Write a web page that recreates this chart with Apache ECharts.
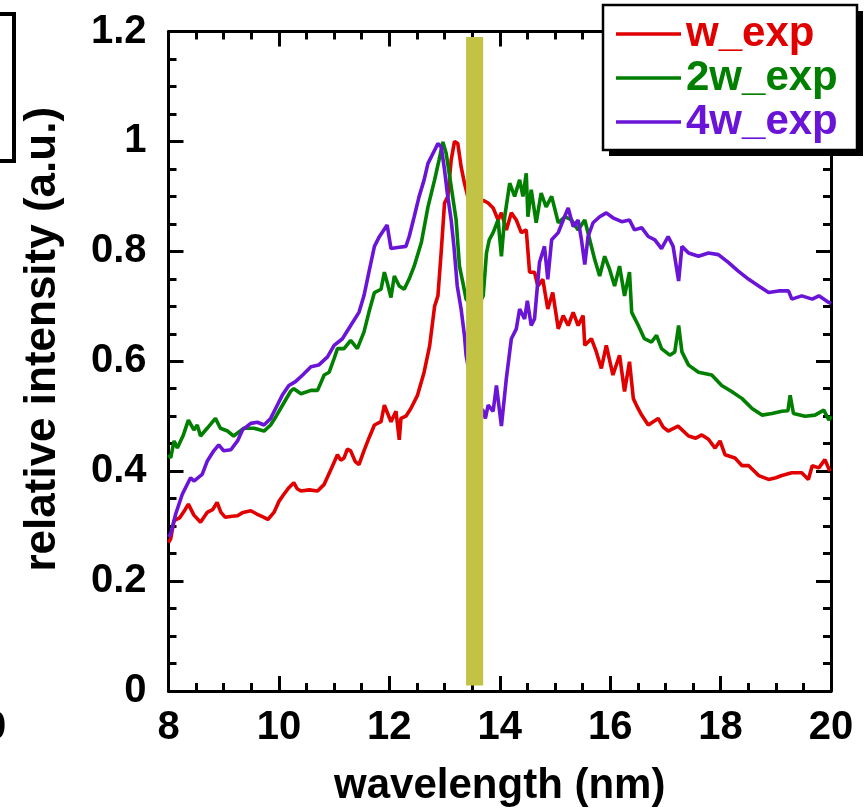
<!DOCTYPE html>
<html>
<head>
<meta charset="utf-8">
<script src="https://cdn.jsdelivr.net/npm/echarts@6/dist/echarts.min.js"></script>
<style>
html,body{margin:0;padding:0;background:#fff;}
#chart{width:868px;height:812px;}
</style>
</head>
<body>
<div id="chart"></div>
<script>
// ---- data ----
const seriesNames = ['w_exp', '2w_exp', '4w_exp'];
const seriesColors = ['#e00000', '#007f00', '#6a14d8'];

const wX = [8.0,8.04,8.1,8.2,8.3,8.36,8.46,8.58,8.7,8.8,8.88,8.95,9.03,9.15,9.25,9.35,9.49,9.6,9.73,9.8,9.91,10.0,10.09,10.18,10.27,10.33,10.4,10.55,10.7,10.82,10.95,11.06,11.12,11.18,11.24,11.3,11.38,11.45,11.54,11.63,11.73,11.85,11.91,11.97,12.03,12.12,12.18,12.21,12.3,12.39,12.51,12.63,12.73,12.82,12.88,12.94,13.0,13.06,13.12,13.18,13.24,13.3,13.36,13.42,13.5,13.6,13.7,13.79,13.88,13.97,14.03,14.12,14.21,14.3,14.39,14.48,14.54,14.63,14.69,14.78,14.87,14.96,15.06,15.15,15.24,15.33,15.42,15.51,15.54,15.66,15.75,15.84,15.93,16.05,16.17,16.26,16.35,16.42,16.5,16.57,16.69,16.87,16.96,17.05,17.23,17.42,17.55,17.66,17.78,17.9,17.99,18.08,18.26,18.39,18.51,18.69,18.87,19.0,19.11,19.29,19.47,19.59,19.66,19.78,19.89,19.98];
const wY = [0.27,0.277,0.31,0.315,0.33,0.34,0.32,0.307,0.325,0.33,0.343,0.325,0.316,0.318,0.319,0.325,0.328,0.322,0.316,0.312,0.325,0.345,0.358,0.37,0.379,0.368,0.364,0.366,0.364,0.376,0.405,0.43,0.42,0.424,0.44,0.437,0.418,0.412,0.437,0.46,0.484,0.49,0.52,0.505,0.49,0.509,0.457,0.496,0.5,0.514,0.538,0.58,0.628,0.7,0.719,0.8,0.888,0.9,0.966,1.0,0.996,0.954,0.924,0.9,0.89,0.88,0.893,0.888,0.879,0.857,0.87,0.839,0.87,0.857,0.834,0.839,0.762,0.762,0.737,0.749,0.695,0.725,0.659,0.683,0.665,0.689,0.665,0.683,0.629,0.641,0.617,0.587,0.629,0.575,0.611,0.545,0.599,0.532,0.515,0.502,0.484,0.496,0.48,0.473,0.482,0.464,0.46,0.466,0.458,0.442,0.455,0.43,0.424,0.41,0.41,0.392,0.385,0.388,0.392,0.397,0.397,0.385,0.41,0.406,0.421,0.4];

const w2X = [8.0,8.04,8.1,8.16,8.27,8.36,8.46,8.52,8.58,8.7,8.85,8.94,9.07,9.18,9.36,9.55,9.73,9.85,9.95,10.03,10.21,10.27,10.4,10.58,10.7,10.82,10.91,11.0,11.06,11.18,11.3,11.42,11.54,11.63,11.73,11.85,11.91,11.97,12.03,12.09,12.18,12.27,12.36,12.45,12.58,12.7,12.82,12.9,12.97,13.03,13.12,13.21,13.27,13.33,13.39,13.5,13.6,13.7,13.76,13.81,13.88,13.97,14.03,14.09,14.18,14.27,14.36,14.42,14.48,14.51,14.57,14.66,14.75,14.84,14.94,15.06,15.18,15.3,15.42,15.54,15.63,15.72,15.81,15.9,15.99,16.08,16.17,16.26,16.35,16.39,16.51,16.62,16.75,16.84,16.93,17.08,17.17,17.24,17.3,17.42,17.6,17.84,18.02,18.2,18.39,18.57,18.75,18.93,19.11,19.22,19.26,19.32,19.53,19.71,19.87,19.96,20.0];
const w2Y = [0.43,0.424,0.455,0.442,0.466,0.493,0.475,0.484,0.464,0.478,0.496,0.478,0.473,0.464,0.478,0.478,0.473,0.484,0.5,0.514,0.545,0.55,0.541,0.547,0.547,0.575,0.58,0.605,0.623,0.623,0.638,0.623,0.653,0.689,0.725,0.731,0.762,0.74,0.716,0.755,0.737,0.731,0.75,0.773,0.816,0.881,0.93,0.966,0.999,0.978,0.918,0.857,0.773,0.744,0.713,0.7,0.7,0.719,0.797,0.821,0.834,0.857,0.791,0.863,0.924,0.9,0.93,0.9,0.942,0.863,0.912,0.852,0.906,0.881,0.9,0.852,0.863,0.857,0.839,0.857,0.821,0.785,0.755,0.791,0.767,0.737,0.773,0.719,0.762,0.689,0.665,0.641,0.635,0.647,0.623,0.611,0.617,0.665,0.617,0.593,0.58,0.575,0.556,0.545,0.532,0.514,0.502,0.505,0.509,0.51,0.538,0.505,0.5,0.502,0.511,0.493,0.5];

const w4X = [8.0,8.04,8.13,8.25,8.4,8.46,8.61,8.7,8.82,8.91,9.0,9.13,9.25,9.34,9.49,9.61,9.73,9.85,9.97,10.06,10.18,10.3,10.43,10.58,10.72,10.88,11.0,11.15,11.3,11.45,11.54,11.63,11.73,11.81,11.9,11.96,12.03,12.15,12.3,12.36,12.45,12.54,12.63,12.7,12.79,12.88,12.94,13.0,13.05,13.12,13.17,13.23,13.3,13.36,13.39,13.5,13.6,13.7,13.74,13.79,13.88,13.94,14.03,14.12,14.21,14.3,14.36,14.45,14.5,14.57,14.63,14.72,14.81,14.87,14.94,15.06,15.15,15.24,15.33,15.42,15.48,15.54,15.6,15.69,15.81,15.93,16.05,16.21,16.35,16.44,16.57,16.69,16.81,16.93,17.05,17.14,17.24,17.3,17.42,17.6,17.78,17.96,18.14,18.32,18.51,18.69,18.87,19.05,19.23,19.29,19.47,19.66,19.78,19.96,20.0];
const w4Y = [0.28,0.286,0.322,0.358,0.388,0.382,0.394,0.418,0.437,0.448,0.437,0.439,0.455,0.475,0.487,0.489,0.484,0.496,0.52,0.538,0.556,0.563,0.575,0.59,0.593,0.608,0.629,0.641,0.665,0.689,0.719,0.762,0.809,0.825,0.839,0.848,0.805,0.807,0.809,0.827,0.863,0.9,0.93,0.96,0.978,0.996,0.99,0.948,0.906,0.857,0.809,0.737,0.695,0.647,0.611,0.55,0.52,0.51,0.496,0.52,0.509,0.556,0.482,0.569,0.641,0.659,0.695,0.677,0.71,0.665,0.677,0.78,0.809,0.749,0.821,0.834,0.857,0.879,0.845,0.857,0.821,0.776,0.827,0.852,0.863,0.87,0.861,0.854,0.857,0.839,0.843,0.827,0.821,0.805,0.827,0.809,0.746,0.809,0.797,0.791,0.797,0.794,0.78,0.764,0.749,0.737,0.725,0.728,0.728,0.713,0.719,0.713,0.719,0.707,0.705];

// highlighted band: [x start, x end, y bottom, y top]
const bandRange = [13.39, 13.70, 0.01, 1.19];

const xTicks = {min: 8, max: 20, interval: 2};
const yTicks = {min: 0, max: 1.2, interval: 0.2};

// ---- chart ----
const zip = (xs, ys) => xs.map((x, i) => [x, ys[i]]);
const allX = [wX, w2X, w4X];
const allY = [wY, w2Y, w4Y];

const chart = echarts.init(document.getElementById('chart'), null, {renderer: 'canvas'});
const FONT = '"Liberation Sans", Arial, Helvetica, sans-serif';

function axisCommon(showLabel) {
  return {
    axisLine: {show: true, onZero: false, lineStyle: {color: '#000', width: 3}},
    axisTick: {show: true, inside: true, length: 15, lineStyle: {color: '#000', width: 3}},
    minorTick: {show: true, splitNumber: 4, length: 8, lineStyle: {color: '#000', width: 3}},
    splitLine: {show: false},
    minorSplitLine: {show: false},
    axisLabel: {show: showLabel, color: '#000', fontFamily: FONT, fontWeight: 'bold', fontSize: 40}
  };
}

const lineSeries = seriesNames.map((name, i) => ({
  name: name,
  type: 'line',
  data: zip(allX[i], allY[i]),
  symbol: 'none',
  showSymbol: false,
  smooth: false,
  lineStyle: {color: seriesColors[i], width: 3.6},
  itemStyle: {color: seriesColors[i]},
  z: 2,
  animation: false
}));

const bandSeries = {
  name: 'band',
  type: 'custom',
  z: 10,
  silent: true,
  animation: false,
  data: [bandRange],
  renderItem: function (params, api) {
    const p1 = api.coord([api.value(0), api.value(3)]);
    const p2 = api.coord([api.value(1), api.value(2)]);
    return {
      type: 'rect',
      shape: {x: p1[0], y: p1[1], width: p2[0] - p1[0], height: p2[1] - p1[1]},
      style: {fill: '#c2c244'}
    };
  }
};

chart.setOption({
  animation: false,
  backgroundColor: '#fff',
  grid: {left: 168.5, right: 37, top: 31.5, bottom: 118, containLabel: false},
  xAxis: [
    Object.assign({
      type: 'value', position: 'bottom', min: xTicks.min, max: xTicks.max, interval: xTicks.interval,
      name: 'wavelength (nm)', nameLocation: 'middle', nameGap: 74,
      nameTextStyle: {color: '#000', fontFamily: FONT, fontWeight: 'bold', fontSize: 42}
    }, axisCommon(true), {axisLabel: {show: true, color: '#000', fontFamily: FONT, fontWeight: 'bold', fontSize: 40, margin: 17}}),
    Object.assign({
      type: 'value', position: 'top', min: xTicks.min, max: xTicks.max, interval: xTicks.interval
    }, axisCommon(false))
  ],
  yAxis: [
    Object.assign({
      type: 'value', position: 'left', min: yTicks.min, max: yTicks.max, interval: yTicks.interval,
      name: 'relative intensity (a.u.)', nameLocation: 'middle', nameGap: 104,
      nameTextStyle: {color: '#000', fontFamily: FONT, fontWeight: 'bold', fontSize: 44, padding: [0, 0, 0, 44]}
    }, axisCommon(true), {axisLabel: {show: true, color: '#000', fontFamily: FONT, fontWeight: 'bold', fontSize: 40, margin: 22}}),
    Object.assign({
      type: 'value', position: 'right', min: yTicks.min, max: yTicks.max, interval: yTicks.interval
    }, axisCommon(false))
  ],
  legend: {
    show: true,
    orient: 'vertical',
    left: 603,
    top: 5,
    padding: [8, 12, 10, 13],
    itemGap: 2,
    itemWidth: 65,
    itemHeight: 3.6,
    icon: 'rect',
    backgroundColor: 'transparent',
    borderWidth: 0,
    z: 20,
    textStyle: {fontFamily: FONT, fontWeight: 'bold', fontSize: 42},
    data: seriesNames.map((n, i) => ({name: n, textStyle: {color: seriesColors[i]}}))
  },
  graphic: [
    // legend frame with solid drop shadow
    {type: 'rect', shape: {x: 609, y: 11, width: 254, height: 145}, style: {fill: '#000'}, z: 15},
    {type: 'rect', shape: {x: 603, y: 5, width: 254, height: 145}, style: {fill: '#fff', stroke: '#000', lineWidth: 2.5}, z: 16},
    // fragment of the neighbouring panel at the left edge
    {type: 'polyline', shape: {points: [[-5, 14], [14, 14], [14, 161], [-5, 161]]}, style: {stroke: '#000', lineWidth: 4, fill: null}, z: 100},
    {type: 'text', left: -16, top: 708, style: {text: '0', font: 'bold 40px ' + FONT, fill: '#000'}, z: 100}
  ],
  series: lineSeries.concat([bandSeries])
});
</script>
</body>
</html>
